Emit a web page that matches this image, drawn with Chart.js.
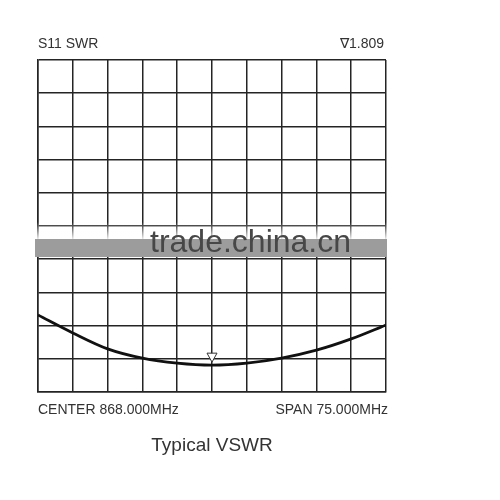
<!DOCTYPE html>
<html>
<head>
    <title>Typical VSWR</title>
    <script src="https://cdn.jsdelivr.net/npm/chart.js"></script>
    <style>
        body { margin: 0; background: #fff; }
    </style>
</head>
<body>
    <canvas id="swrChart" width="500" height="500"></canvas>

    <script>
        // Sweep: center 868 MHz, span 75 MHz -> 10 divisions of 7.5 MHz
        var freqs = [830.5, 838, 845.5, 853, 860.5, 868, 875.5, 883, 890.5, 898, 905.5];
        var swr = [3.32, 2.78, 2.30, 2.02, 1.87, 1.81, 1.87, 2.02, 2.26, 2.60, 3.02];

        var markerFreq = 868;
        var markerSwr = 1.809;

        var headerLeft = 'S11 SWR';
        var headerRight = '\u22071.809';
        var footerLeft = 'CENTER 868.000MHz';
        var footerRight = 'SPAN 75.000MHz';
        var caption = 'Typical VSWR';
        var watermark = 'trade.china.cn';

        var points = [];
        for (var i = 0; i < freqs.length; i++) {
            points.push({ x: freqs[i], y: swr[i] });
        }

        var gridColor = '#242424';
        var textColor = '#333';

        // draws the marker, labels and the watermark band
        var overlayPlugin = {
            id: 'overlay',
            afterDatasetsDraw: function(chart) {
                var ctx = chart.ctx;
                var area = chart.chartArea;
                var xs = chart.scales.x;
                var ys = chart.scales.y;

                // marker triangle, apex just above the trace
                var mx = xs.getPixelForValue(markerFreq);
                var my = ys.getPixelForValue(markerSwr) - 3;
                ctx.save();
                ctx.beginPath();
                ctx.moveTo(mx, my);
                ctx.lineTo(mx - 5, my - 9);
                ctx.lineTo(mx + 5, my - 9);
                ctx.closePath();
                ctx.fillStyle = '#fff';
                ctx.fill();
                ctx.strokeStyle = '#333';
                ctx.lineWidth = 1;
                ctx.stroke();
                ctx.restore();

                // watermark band
                ctx.save();
                var grad = ctx.createLinearGradient(0, area.top + 162, 0, area.top + 179);
                grad.addColorStop(0, 'rgba(255,255,255,0)');
                grad.addColorStop(1, 'rgba(255,255,255,0.9)');
                ctx.fillStyle = grad;
                ctx.fillRect(area.left - 3, area.top + 162, area.width + 6, 17);
                ctx.fillStyle = '#9c9c9c';
                ctx.fillRect(area.left - 3, area.top + 179, area.width + 4, 18);
                ctx.fillStyle = '#474747';
                ctx.font = '32px "Liberation Sans", Arial, sans-serif';
                ctx.textAlign = 'left';
                ctx.textBaseline = 'alphabetic';
                ctx.fillText(watermark, 150, area.top + 192);
                ctx.restore();

                // labels
                ctx.save();
                ctx.fillStyle = textColor;
                ctx.font = '14px "Liberation Sans", Arial, sans-serif';
                ctx.textBaseline = 'alphabetic';
                ctx.textAlign = 'left';
                ctx.fillText(headerLeft, area.left, area.top - 12);
                ctx.fillText(footerLeft, area.left, area.bottom + 22);
                ctx.textAlign = 'right';
                ctx.fillText(headerRight, area.right - 2, area.top - 12);
                ctx.fillText(footerRight, area.right + 2, area.bottom + 22);
                ctx.textAlign = 'center';
                ctx.font = '19px "Liberation Sans", Arial, sans-serif';
                ctx.fillText(caption, (area.left + area.right) / 2, area.bottom + 59);
                ctx.restore();
            }
        };

        var ctx = document.getElementById('swrChart').getContext('2d');
        var swrChart = new Chart(ctx, {
            type: 'line',
            data: {
                datasets: [{
                    label: 'S11 SWR',
                    data: points,
                    borderColor: '#111',
                    borderWidth: 2.8,
                    pointRadius: 0,
                    cubicInterpolationMode: 'monotone',
                    fill: false
                }]
            },
            options: {
                responsive: false,
                animation: false,
                layout: {
                    padding: { left: 38, top: 60, right: 114, bottom: 108 }
                },
                plugins: {
                    legend: { display: false },
                    tooltip: { enabled: false }
                },
                scales: {
                    x: {
                        type: 'linear',
                        min: 830.5,
                        max: 905.5,
                        ticks: { display: false, stepSize: 7.5 },
                        grid: { color: gridColor, lineWidth: 1.5, drawTicks: false },
                        border: { color: gridColor, width: 1.5 }
                    },
                    y: {
                        min: 1,
                        max: 11,
                        ticks: { display: false, stepSize: 1 },
                        grid: { color: gridColor, lineWidth: 1.5, drawTicks: false },
                        border: { color: gridColor, width: 1.5 }
                    }
                }
            },
            plugins: [overlayPlugin]
        });
    </script>
</body>
</html>
